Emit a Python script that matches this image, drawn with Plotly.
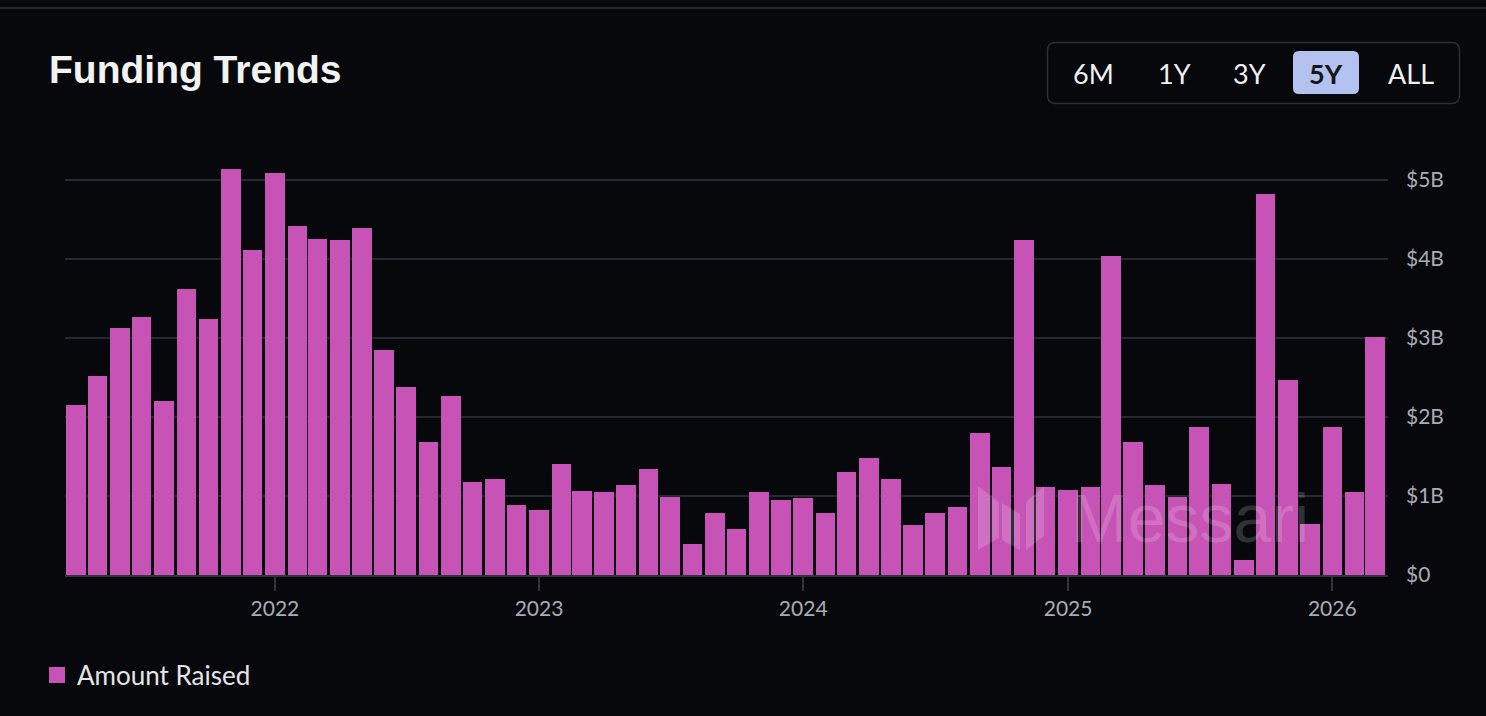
import plotly.graph_objects as go

# ---------------- data ----------------
months = [
    "2021-04", "2021-05", "2021-06", "2021-07", "2021-08", "2021-09", "2021-10", "2021-11", "2021-12",
    "2022-01", "2022-02", "2022-03", "2022-04", "2022-05", "2022-06", "2022-07", "2022-08", "2022-09",
    "2022-10", "2022-11", "2022-12",
    "2023-01", "2023-02", "2023-03", "2023-04", "2023-05", "2023-06", "2023-07", "2023-08", "2023-09",
    "2023-10", "2023-11", "2023-12",
    "2024-01", "2024-02", "2024-03", "2024-04", "2024-05", "2024-06", "2024-07", "2024-08", "2024-09",
    "2024-10", "2024-11", "2024-12",
    "2025-01", "2025-02", "2025-03", "2025-04", "2025-05", "2025-06", "2025-07", "2025-08", "2025-09",
    "2025-10", "2025-11", "2025-12",
    "2026-01", "2026-02", "2026-03",
]
amount_raised_b = [
    2.15, 2.52, 3.13, 3.26, 2.20, 3.62, 3.24, 5.14, 4.11,
    5.08, 4.41, 4.25, 4.24, 4.39, 2.84, 2.38, 1.68, 2.27, 1.18, 1.22, 0.89,
    0.82, 1.41, 1.06, 1.05, 1.14, 1.34, 0.99, 0.39, 0.78, 0.58, 1.05, 0.95,
    0.97, 0.79, 1.30, 1.48, 1.22, 0.63, 0.78, 0.86, 1.80, 1.37, 4.24, 1.11,
    1.08, 1.11, 4.04, 1.68, 1.14, 0.99, 1.87, 1.15, 0.19, 4.82, 2.47, 0.65,
    1.87, 1.05, 3.01,
]
y_tick_vals = [0, 1, 2, 3, 4, 5]
y_tick_text = ["$0", "$1B", "$2B", "$3B", "$4B", "$5B"]
x_tick_vals = ["2022-01-01", "2023-01-01", "2024-01-01", "2025-01-01", "2026-01-01"]
x_tick_text = ["2022", "2023", "2024", "2025", "2026"]
range_buttons = ["6M", "1Y", "3Y", "5Y", "ALL"]
active_button = "5Y"
series_name = "Amount Raised"
title_text = "Funding Trends"

# ---------------- layout geometry ----------------
W, H = 1486, 716
L, R, T, B = 65, 98, 156, 141
PW, PH = W - L - R, H - T - B

BG = "#07080b"
BAR = "#c653b5"
GRID = "#252932"
TICKFONT = "#a8acb8"


def px(x):
    return (x - L) / PW


def py(y):
    return (H - B - y) / PH


def rounded_rect(x0, y0, x1, y1, r):
    X = lambda v: f"{px(v):.5f}"
    Y = lambda v: f"{py(v):.5f}"
    return (
        f"M{X(x0 + r)},{Y(y0)} L{X(x1 - r)},{Y(y0)} Q{X(x1)},{Y(y0)} {X(x1)},{Y(y0 + r)} "
        f"L{X(x1)},{Y(y1 - r)} Q{X(x1)},{Y(y1)} {X(x1 - r)},{Y(y1)} "
        f"L{X(x0 + r)},{Y(y1)} Q{X(x0)},{Y(y1)} {X(x0)},{Y(y1 - r)} "
        f"L{X(x0)},{Y(y0 + r)} Q{X(x0)},{Y(y0)} {X(x0 + r)},{Y(y0)} Z"
    )


def poly(points):
    return "M" + " L".join(f"{px(a):.5f},{py(b):.5f}" for a, b in points) + " Z"


fig = go.Figure()
fig.add_trace(
    go.Bar(
        x=[m + "-01" for m in months],
        y=amount_raised_b,
        name=series_name,
        legendgroup="amt",
        marker=dict(color=BAR, line=dict(width=0)),
        width=27 * 86400000,
        showlegend=False,
    )
)
# legend entry (larger square like the reference)
fig.add_trace(
    go.Scatter(
        x=[None], y=[None], mode="markers", name=series_name, legendgroup="amt",
        marker=dict(symbol="square", size=16, color=BAR),
        hoverinfo="skip", showlegend=True,
    )
)

shapes = []
annotations = []

# top separator line
shapes.append(dict(type="line", xref="paper", yref="paper", x0=px(0), x1=px(W), y0=py(8), y1=py(8),
                   line=dict(color="#24262d", width=2), layer="above"))

# range selector group
shapes.append(dict(type="path", xref="paper", yref="paper", path=rounded_rect(1047.5, 42.5, 1459.5, 103.5, 8),
                   line=dict(color="#2b2e36", width=1.5), fillcolor="rgba(0,0,0,0)", layer="above"))
button_x = [1093, 1174, 1249, 1326, 1411]
for lab, bx in zip(range_buttons, button_x):
    if lab == active_button:
        shapes.append(dict(type="path", xref="paper", yref="paper", path=rounded_rect(1293, 51, 1359, 94, 6),
                           line=dict(width=0), fillcolor="#b3c2ee", layer="above"))
        annotations.append(dict(text=f"<b>{lab}</b>", x=px(bx), y=py(73), xref="paper", yref="paper",
                                showarrow=False, xanchor="center", yanchor="middle",
                                font=dict(family="Lato", size=27, color="#14161c")))
    else:
        annotations.append(dict(text=lab, x=px(bx), y=py(73), xref="paper", yref="paper",
                                showarrow=False, xanchor="center", yanchor="middle",
                                font=dict(family="Lato", size=27, color="#f0f0f2")))

# title
annotations.append(dict(text=f"<b>{title_text}</b>", x=px(47), y=py(70), xref="paper", yref="paper",
                        showarrow=False, xanchor="left", yanchor="middle",
                        font=dict(family="Liberation Sans", size=39, color="#f2f2f2")))

# watermark
wm = "rgba(255,255,255,0.17)"
shapes.append(dict(type="path", xref="paper", yref="paper",
                   path=poly([(978, 486), (999, 502), (999, 538), (978, 550)]),
                   line=dict(width=0), fillcolor=wm, layer="above"))
shapes.append(dict(type="path", xref="paper", yref="paper",
                   path=poly([(1002, 503), (1020, 514), (1020, 550), (1002, 540)]),
                   line=dict(width=0), fillcolor=wm, layer="above"))
shapes.append(dict(type="path", xref="paper", yref="paper",
                   path=poly([(1026, 502), (1044, 486), (1044, 536), (1026, 550)]),
                   line=dict(width=0), fillcolor=wm, layer="above"))
annotations.append(dict(text="Messari", x=px(1069), y=py(518), xref="paper", yref="paper",
                        showarrow=False, xanchor="left", yanchor="middle",
                        font=dict(family="Liberation Sans", size=68, color=wm)))

fig.update_layout(
    width=W,
    height=H,
    margin=dict(l=L, r=R, t=T, b=B, pad=0),
    paper_bgcolor=BG,
    plot_bgcolor=BG,
    bargap=0,
    shapes=shapes,
    annotations=annotations,
    showlegend=True,
    legend=dict(
        orientation="h",
        x=px(37),
        y=py(675),
        xanchor="left",
        yanchor="middle",
        font=dict(family="Lato", size=26, color="#e4e4e8"),
        bgcolor="rgba(0,0,0,0)",
    ),
    xaxis=dict(
        type="date",
        range=["2021-03-17", "2026-03-19"],
        tickvals=x_tick_vals,
        ticktext=x_tick_text,
        showgrid=False,
        zeroline=False,
        showline=True,
        linecolor="#30343d",
        linewidth=2,
        ticks="outside",
        ticklen=14,
        tickwidth=2,
        tickcolor="#2f333c",
        tickfont=dict(family="Lato", size=21, color=TICKFONT),
        fixedrange=True,
    ),
    yaxis=dict(
        side="right",
        range=[0, 5.3],
        tickvals=y_tick_vals,
        ticktext=y_tick_text,
        showgrid=True,
        gridcolor=GRID,
        gridwidth=2,
        zeroline=False,
        showline=False,
        ticks="",
        ticklabelstandoff=17,
        tickfont=dict(family="Lato", size=21, color=TICKFONT),
        fixedrange=True,
    ),
)

fig.write_html(
    "out.html",
    config={"displayModeBar": False},
    post_script="document.body.style.margin='0';document.body.style.overflow='hidden';document.body.style.background='#07080b';",
)
